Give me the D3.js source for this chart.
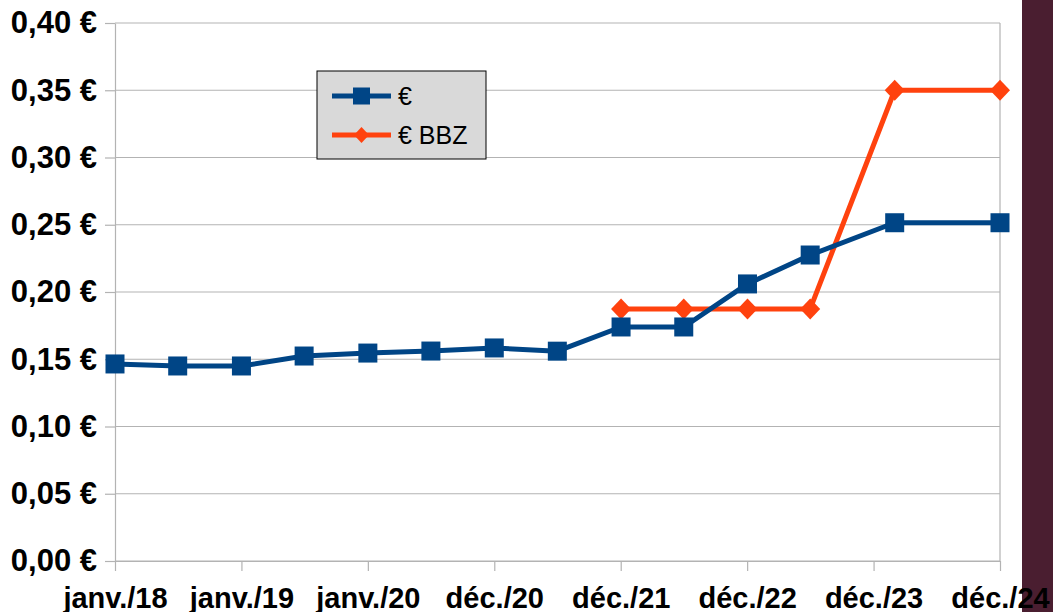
<!DOCTYPE html>
<html>
<head>
<meta charset="utf-8">
<script src="https://cdn.jsdelivr.net/npm/d3@7"></script>
<style>
  html, body { margin: 0; padding: 0; background: #fff; }
  svg { display: block; font-family: "Liberation Sans", Arial, sans-serif; }
</style>
</head>
<body>
<script>
// x axis ticks (365-day steps from janv. 2018)
let tickDates = ["2018-01-01", "2019-01-01", "2020-01-01", "2020-12-31",
                 "2021-12-31", "2022-12-31", "2023-12-31", "2024-12-30"];
let tickLabels = ["janv./18", "janv./19", "janv./20", "déc./20",
                  "déc./21", "déc./22", "déc./23", "déc./24"];
let yTicks = [0, 0.05, 0.10, 0.15, 0.20, 0.25, 0.30, 0.35, 0.40];

// série "€"
let euroDates = ["2018-01-01", "2018-07-01", "2019-01-01", "2019-07-01",
                 "2020-01-01", "2020-07-01", "2020-12-31", "2021-07-01",
                 "2022-01-01", "2022-07-01", "2023-01-01", "2023-07-01",
                 "2024-03-01", "2024-12-30"];
let euroValues = [0.1465, 0.145, 0.145, 0.1524, 0.1546, 0.1561, 0.1584, 0.156,
                  0.174, 0.174, 0.206, 0.2275, 0.2515, 0.2515];

// série "€ BBZ"
let bbzDates = ["2022-01-01", "2022-07-01", "2023-01-01", "2023-07-01",
                "2024-03-01", "2024-12-30"];
let bbzValues = [0.1874, 0.1874, 0.1874, 0.1874, 0.35, 0.35];

let seriesNames = ["€", "€ BBZ"];
let blue = "#004586", orange = "#ff420e";

let width = 1053, height = 612;
let margin = {left: 115, right: 52, top: 23, bottom: 51};

let parse = d3.utcParse("%Y-%m-%d");

let svg = d3.select("body")
    .append("svg")
    .attr("width", width)
    .attr("height", height);

svg.append("rect")
    .attr("width", width)
    .attr("height", height)
    .attr("fill", "#fff");

// bande violette à droite
svg.append("rect")
    .attr("x", 1022)
    .attr("y", 0)
    .attr("width", width - 1022)
    .attr("height", height)
    .attr("fill", "#4a1e30");

let x = d3.scaleUtc()
    .domain([parse(tickDates[0]), parse(tickDates[tickDates.length - 1])])
    .range([margin.left, width - margin.right - 1]);

let y = d3.scaleLinear()
    .domain([0, 0.40])
    .range([height - margin.bottom, margin.top]);

// grille horizontale
svg.append("g")
    .selectAll("line")
    .data(yTicks)
    .join("line")
    .attr("x1", margin.left)
    .attr("x2", x.range()[1])
    .attr("y1", d => y(d))
    .attr("y2", d => y(d))
    .attr("stroke", "#b3b3b3")
    .attr("stroke-width", 1.2);

// bord droit
svg.append("line")
    .attr("x1", x.range()[1])
    .attr("x2", x.range()[1])
    .attr("y1", y(0.40))
    .attr("y2", y(0))
    .attr("stroke", "#b3b3b3")
    .attr("stroke-width", 1.2);

let fmt = d => d3.format(".2f")(d).replace(".", ",") + " €";

let yAxis = svg.append("g")
    .attr("transform", `translate(${margin.left},0)`)
    .call(d3.axisLeft(y).tickValues(yTicks).tickFormat(fmt).tickSize(10).tickSizeOuter(0).tickPadding(8));

let xAxis = svg.append("g")
    .attr("transform", `translate(0,${y(0)})`)
    .call(d3.axisBottom(x)
        .tickValues(tickDates.map(parse))
        .tickFormat((d, i) => tickLabels[i])
        .tickSize(10)
        .tickSizeOuter(0)
        .tickPadding(16));

[yAxis, xAxis].forEach(a => {
    a.select(".domain").attr("stroke", "#b3b3b3").attr("stroke-width", 1.2);
    a.selectAll(".tick line").attr("stroke", "#b3b3b3").attr("stroke-width", 1.2);
    a.selectAll(".tick text")
        .attr("fill", "#000")
        .style("font-weight", "bold")
        .style("font-family", "'Liberation Sans', Arial, sans-serif");
});
yAxis.selectAll(".tick text").style("font-size", "31px");
xAxis.selectAll(".tick text").style("font-size", "29px");

let line = d3.line()
    .x(d => x(d.date))
    .y(d => y(d.value));

let euro = euroDates.map((d, i) => ({date: parse(d), value: euroValues[i]}));
let bbz = bbzDates.map((d, i) => ({date: parse(d), value: bbzValues[i]}));

let diamond = (w, h) => `M0,${-h}L${w},0L0,${h}L${-w},0Z`;

// série BBZ (dessous)
svg.append("path")
    .datum(bbz)
    .attr("d", line)
    .attr("fill", "none")
    .attr("stroke", orange)
    .attr("stroke-width", 5)
    .attr("stroke-linejoin", "round");

svg.append("g")
    .selectAll("path")
    .data(bbz)
    .join("path")
    .attr("transform", d => `translate(${x(d.date)},${y(d.value)})`)
    .attr("d", diamond(10, 10.5))
    .attr("fill", orange);

// série €
svg.append("path")
    .datum(euro)
    .attr("d", line)
    .attr("fill", "none")
    .attr("stroke", blue)
    .attr("stroke-width", 5)
    .attr("stroke-linejoin", "round");

svg.append("g")
    .selectAll("rect")
    .data(euro)
    .join("rect")
    .attr("x", d => x(d.date) - 9.5)
    .attr("y", d => y(d.value) - 9.5)
    .attr("width", 19)
    .attr("height", 19)
    .attr("fill", blue);

// légende
let legend = svg.append("g");

legend.append("rect")
    .attr("x", 317)
    .attr("y", 71)
    .attr("width", 169)
    .attr("height", 88)
    .attr("fill", "#d9d9d9")
    .attr("stroke", "#000")
    .attr("stroke-width", 1);

let legendRows = [
    {name: seriesNames[0], color: blue, ly: 96, mark: "square"},
    {name: seriesNames[1], color: orange, ly: 135, mark: "diamond"}
];

legendRows.forEach(r => {
    legend.append("line")
        .attr("x1", 332).attr("x2", 391)
        .attr("y1", r.ly).attr("y2", r.ly)
        .attr("stroke", r.color)
        .attr("stroke-width", 5);
    if (r.mark === "square") {
        legend.append("rect")
            .attr("x", 361.5 - 8.5).attr("y", r.ly - 8.5)
            .attr("width", 17).attr("height", 17)
            .attr("fill", r.color);
    } else {
        legend.append("path")
            .attr("transform", `translate(361.5,${r.ly})`)
            .attr("d", diamond(7.5, 8))
            .attr("fill", r.color);
    }
    legend.append("text")
        .attr("x", 398)
        .attr("y", r.ly)
        .attr("dy", "0.35em")
        .style("font-size", "25px")
        .attr("fill", "#000")
        .text(r.name);
});
</script>
</body>
</html>
